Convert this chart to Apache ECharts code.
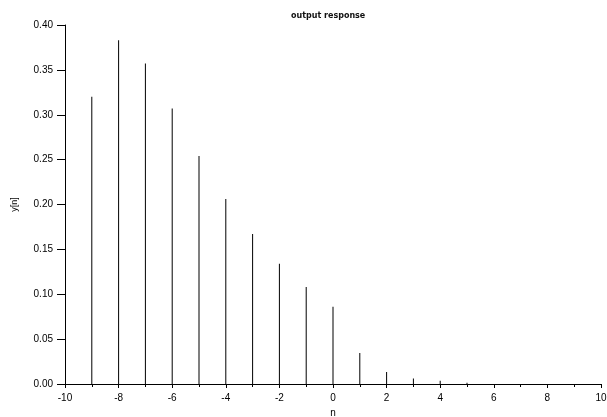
<!DOCTYPE html>
<html>
<head>
<meta charset="utf-8">
<script src="https://cdn.jsdelivr.net/npm/echarts@6/dist/echarts.min.js"></script>
<style>html,body{margin:0;padding:0;background:#fff}#c{width:607px;height:417px}</style>
</head>
<body>
<div id="c"></div>
<script>
var nValues = [-10, -9, -8, -7, -6, -5, -4, -3, -2, -1, 0, 1, 2, 3, 4, 5, 6, 7, 8, 9, 10];
var yValues = [0, 0.320, 0.383, 0.357, 0.307, 0.254, 0.206, 0.167, 0.134, 0.108, 0.086, 0.0345, 0.0135, 0.006, 0.0035, 0.0015, 0, 0, 0, 0, 0];
var titleText = 'output response';
var xName = 'n';
var yName = 'y[n]';

var chart = echarts.init(document.getElementById('c'), null, {renderer: 'canvas'});
var data = nValues.map(function (n, i) { return [n, yValues[i]]; });
var font = 'Liberation Sans';
chart.setOption({
  animation: false,
  backgroundColor: '#fff',
  title: {
    text: titleText,
    left: 286,
    top: 7,
    textStyle: {fontSize: 8, fontWeight: 'bold', color: '#111', fontFamily: 'DejaVu Sans'}
  },
  grid: {left: 65, right: 6, top: 25, bottom: 33, containLabel: false, outerBoundsMode: 'none'},
  xAxis: {
    type: 'value',
    min: -10, max: 10, interval: 2,
    name: xName, nameLocation: 'middle', nameGap: 24,
    nameTextStyle: {fontSize: 10, color: '#000', fontFamily: font},
    axisLine: {show: true, onZero: false, lineStyle: {color: '#000', width: 1}},
    axisTick: {show: true, length: 4, lineStyle: {color: '#000'}},
    minorTick: {show: true, splitNumber: 2, length: 3, lineStyle: {color: '#000'}},
    splitLine: {show: false},
    axisLabel: {fontSize: 10, color: '#000', margin: 9, fontFamily: font}
  },
  yAxis: {
    type: 'value',
    min: 0, max: 0.4, interval: 0.05,
    name: yName, nameLocation: 'middle', nameGap: 46, nameRotate: 90,
    nameTextStyle: {fontSize: 9, color: '#000', fontFamily: font},
    axisLine: {show: true, onZero: false, lineStyle: {color: '#000', width: 1}},
    axisTick: {show: true, length: 8, lineStyle: {color: '#000'}},
    splitLine: {show: false},
    axisLabel: {fontSize: 10, color: '#000', margin: 12, fontFamily: font,
      formatter: function (v) { return v.toFixed(2); }}
  },
  series: [{
    type: 'bar',
    data: data,
    barWidth: 1,
    itemStyle: {color: '#000'},
    silent: true
  }]
});
</script>
</body>
</html>
